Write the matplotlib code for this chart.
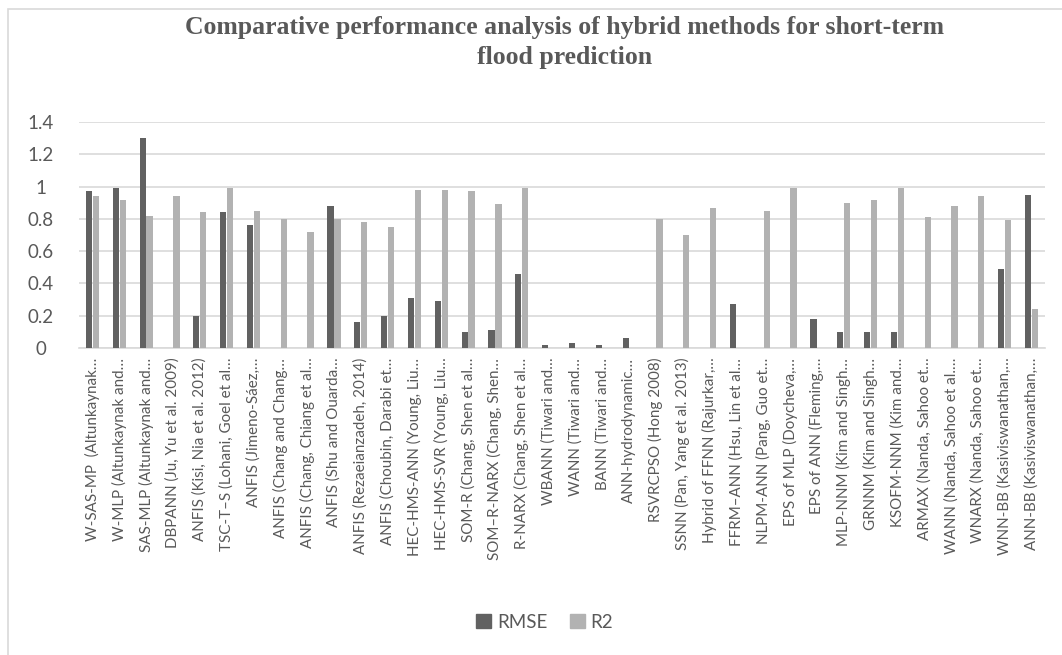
import matplotlib.pyplot as plt
import matplotlib.patches as mpatches
import numpy as np

# values (Excel style clustered columns)
methods = [
    "W-SAS-MP  (Altunkaynak…", "W-MLP (Altunkaynak and…", "SAS-MLP (Altunkaynak and…",
    "DBPANN (Ju, Yu et al. 2009)", "ANFIS (Kisi, Nia et al. 2012)", "TSC-T–S (Lohani, Goel et al…",
    "ANFIS (Jimeno-Sáez,…", "ANFIS (Chang and Chang…", "ANFIS (Chang, Chiang et al…",
    "ANFIS (Shu and Ouarda…", "ANFIS (Rezaeianzadeh, 2014)", "ANFIS (Choubin, Darabi et…",
    "HEC-HMS-ANN (Young, Liu…", "HEC-HMS-SVR (Young, Liu…", "SOM-R (Chang, Shen et al…",
    "SOM–R-NARX (Chang, Shen…", "R-NARX (Chang, Shen et al…", "WBANN (Tiwari and…",
    "WANN (Tiwari and…", "BANN (Tiwari and…", "ANN-hydrodynamic…",
    "RSVRCPSO (Hong 2008)", "SSNN (Pan, Yang et al. 2013)", "Hybrid of FFNN (Rajurkar,…",
    "FFRM–ANN (Hsu, Lin et al…", "NLPM-ANN (Pang, Guo et…", "EPS of MLP (Doycheva,…",
    "EPS of ANN (Fleming,…", "MLP-NNM (Kim and Singh…", "GRNNM (Kim and Singh…",
    "KSOFM-NNM (Kim and…", "ARMAX (Nanda, Sahoo et…", "WANN (Nanda, Sahoo et al.…",
    "WNARX (Nanda, Sahoo et…", "WNN-BB (Kasiviswanathan,…", "ANN-BB (Kasiviswanathan,…",
]
rmse = [0.97, 0.99, 1.30, 0, 0.20, 0.84, 0.76, 0, 0, 0.88, 0.16, 0.20,
        0.31, 0.29, 0.10, 0.11, 0.46, 0.02, 0.03, 0.02, 0.06, 0, 0, 0,
        0.27, 0, 0, 0.18, 0.10, 0.10, 0.10, 0, 0, 0, 0.49, 0.95]
r2 = [0.94, 0.92, 0.82, 0.94, 0.84, 0.99, 0.85, 0.80, 0.72, 0.80, 0.78, 0.75,
      0.98, 0.98, 0.97, 0.89, 0.99, 0, 0, 0, 0, 0.80, 0.70, 0.87,
      0, 0.85, 0.99, 0, 0.90, 0.92, 0.99, 0.81, 0.88, 0.94, 0.79, 0.24]

dark = "#616161"
light = "#b2b2b2"
txt = "#595959"
grid = "#d9d9d9"
plt.rcParams['font.family'] = ['Lato', 'DejaVu Sans']

fig = plt.figure(figsize=(10.62, 6.55), dpi=100)
ax = fig.add_axes([0.0744, 0.4687, 0.9096, 0.345])

x = np.arange(len(methods))
w = 0.235
ax.bar(x - w / 2 - 0.01, rmse, w, color=dark, label="RMSE", zorder=3)
ax.bar(x + w / 2 + 0.01, r2, w, color=light, label="R2", zorder=3)

ax.set_xlim(-0.5, len(methods) - 0.5)
ax.set_ylim(0, 1.4)
ax.set_yticks(np.arange(0, 1.41, 0.2))
ax.set_yticklabels(["0", "0.2", "0.4", "0.6", "0.8", "1", "1.2", "1.4"])
ax.yaxis.grid(True, color=grid, linewidth=1.2, zorder=0)
for s in ["top", "right", "left"]:
    ax.spines[s].set_visible(False)
ax.spines["bottom"].set_color(grid)
ax.spines["bottom"].set_linewidth(1.2)
ax.tick_params(axis="y", length=0, pad=27.5, labelsize=13.5, labelcolor=txt)
ax.tick_params(axis="x", length=0, pad=7, labelsize=10.9, labelcolor=txt)
ax.set_xticks(x)
ax.set_xticklabels(methods, rotation=90, ha="center", va="top")
for lab in ax.get_yticklabels():
    lab.set_horizontalalignment("center")

fig.text(0.532, 0.975, "Comparative performance analysis of hybrid methods for short-term\nflood prediction",
         ha="center", va="top", fontsize=18.5, fontweight="bold", color=txt,
         family="Liberation Serif", linespacing=1.35)

leg = fig.legend(handles=[mpatches.Patch(color=dark, label="RMSE"),
                          mpatches.Patch(color=light, label="R2")],
                 loc="center", bbox_to_anchor=(0.513, 0.05), ncol=2, frameon=False,
                 fontsize=13.5, handlelength=0.8, handleheight=0.8, handletextpad=0.3,
                 columnspacing=1.2)
for t in leg.get_texts():
    t.set_color(txt)

# chart area border
fig.patches.append(mpatches.Rectangle((0.008, -0.05), 1.1, 1.037, transform=fig.transFigure,
                                      fill=False, edgecolor=grid, linewidth=1.2))

fig.savefig("out.png", dpi=100)
